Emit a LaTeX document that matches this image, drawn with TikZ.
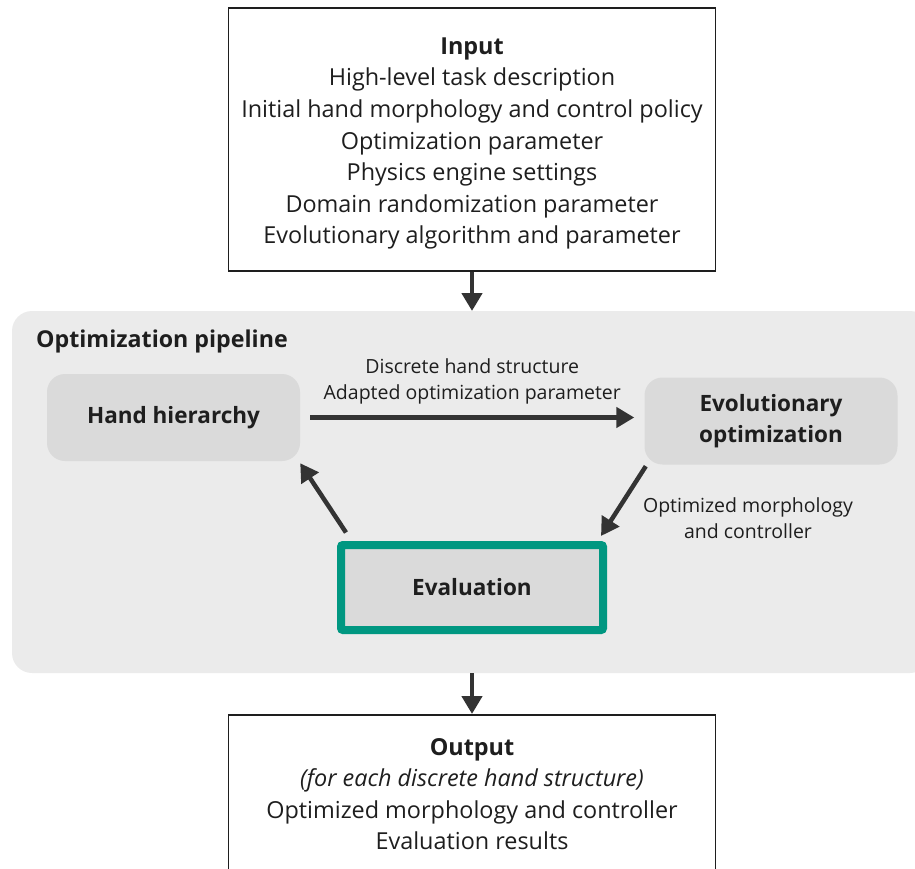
\documentclass[tikz,border=0pt]{standalone}
\usepackage{fontspec}
\setmainfont{Open Sans}
\usetikzlibrary{arrows.meta}
\definecolor{arrowgray}{HTML}{333333}
\definecolor{panelgray}{HTML}{EBEBEB}
\definecolor{boxgray}{HTML}{DADADA}
\definecolor{evalgreen}{RGB}{0,151,129}
\definecolor{textdark}{HTML}{1E1E1E}
\tikzset{
  iobox/.style={draw=textdark, line width=1.6pt, fill=white, minimum width=487pt, inner sep=0pt},
  iotext/.style={align=center, text=textdark, font=\fontsize{23.4}{31.6}\selectfont, inner sep=0pt},
  stagebox/.style={fill=boxgray, rounded corners=18pt, minimum width=253pt, minimum height=87pt,
                   align=center, text=textdark, inner sep=0pt,
                   font=\fontsize{22.5}{31}\selectfont\bfseries},
  evalbox/.style={draw=evalgreen, line width=8pt, fill=boxgray, rounded corners=2pt,
                  minimum width=262pt, minimum height=85pt, text=textdark, inner sep=0pt,
                  font=\fontsize{22.5}{31}\selectfont\bfseries},
  flow/.style={draw=arrowgray, line width=4.5pt, -{Triangle[length=18pt,width=20pt]}},
  flowlabel/.style={align=center, text=textdark, inner sep=0pt, font=\fontsize{19.5}{26.5}\selectfont},
}
\begin{document}
\begin{tikzpicture}[x=1pt,y=-1pt]
\useasboundingbox (0,0) rectangle (915,869);
\clip (0,0) rectangle (915,869);

% pipeline panel
\fill[panelgray, rounded corners=20pt] (12,311) rectangle (930,673);
\node[anchor=west, inner sep=0pt, text=textdark, font=\fontsize{23.2}{26}\selectfont\bfseries]
  (pipetitle) at (36,341) {Optimization pipeline};

% input box
\node[iobox, minimum height=263pt] (input) at (472,139.5) {};
\node[iotext] (intext) at (472,143.5) {\textbf{Input}\\
  High-level task description\\
  Initial hand morphology and control policy\\
  Optimization parameter\\
  Physics engine settings\\
  Domain randomization parameter\\
  Evolutionary algorithm and parameter};

% output box (runs past the lower edge)
\node[iobox, minimum height=220pt, anchor=north] (output) at (472,714) {};
\node[iotext, anchor=north] (outtext) at (472,738) {\textbf{Output}\\
  \textit{(for each discrete hand structure)}\\
  Optimized morphology and controller\\
  Evaluation results};

% stages
\node[stagebox] (hand) at (173.5,417.5) {Hand hierarchy};
\node[stagebox] (evo) at (771,421) {Evolutionary\\optimization};
\node[evalbox] (eval) at (472,587.5) {Evaluation};

% connectors
\draw[flow] (input.south) -- (472,311);
\coordinate (pipebottom) at (472,673);
\draw[flow] (pipebottom) -- (output.north);
\draw[flow] ([xshift=10pt]hand.east) -- ([xshift=-10pt]evo.west |- hand.east)
  node[flowlabel, midway, above=11pt] (toplabel) {Discrete hand structure\\Adapted optimization parameter};
\draw[flow] ([xshift=1.5pt,yshift=-1.5pt]evo.south west) -- ([xshift=-6pt,yshift=5pt]eval.north east);
\draw[flow] ([xshift=9pt,yshift=8.5pt]eval.north west) -- ([yshift=-2pt]hand.south east);
\node[flowlabel] (evolabel) at (748,518) {Optimized morphology\\and controller};
\end{tikzpicture}
\end{document}
